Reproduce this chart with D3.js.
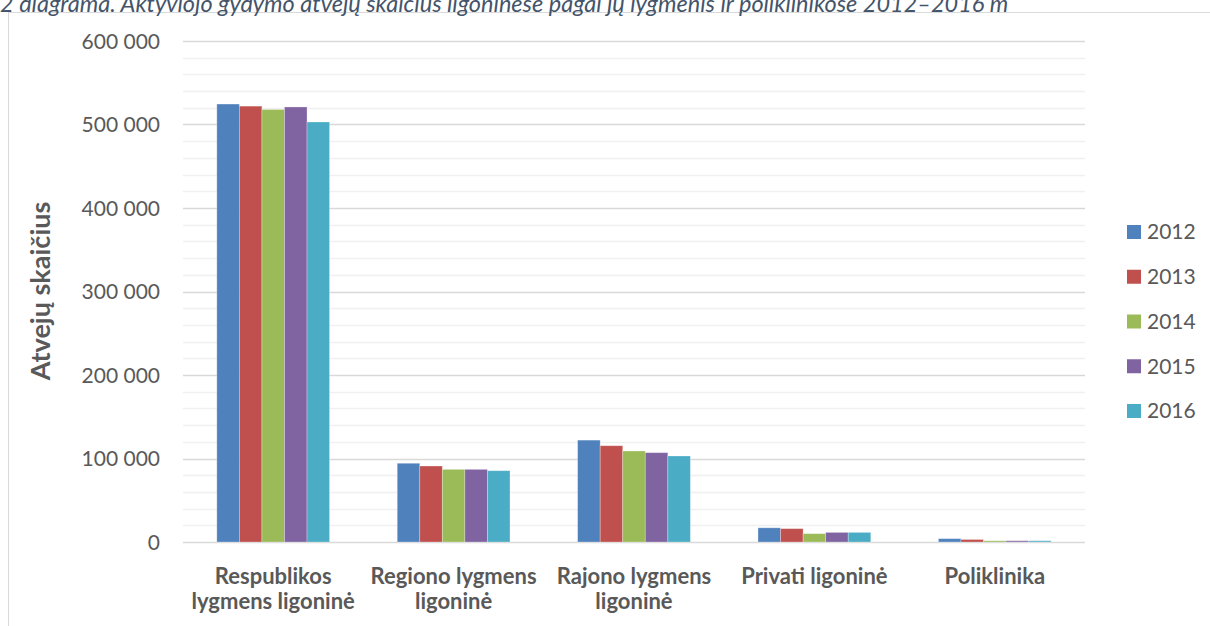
<!DOCTYPE html>
<html><head><meta charset="utf-8">
<script src="https://cdn.jsdelivr.net/npm/d3@7"></script>
<style>body{margin:0;background:#fff;}svg{display:block;}</style>
</head><body>
<script>
const categories = [["Respublikos","lygmens ligoninė"],["Regiono lygmens","ligoninė"],["Rajono lygmens","ligoninė"],["Privati ligoninė"],["Poliklinika"]];
const years = ["2012","2013","2014","2015","2016"];
const colors = ["#4F81BD","#C0504D","#9BBB59","#8064A2","#4BACC6"];
const v2012 = [524500, 94300, 122000, 17000, 4000];
const v2013 = [522000, 91000, 115300, 16000, 3000];
const v2014 = [518000, 87000, 109000, 10000, 1500];
const v2015 = [521000, 87000, 107000, 11500, 1500];
const v2016 = [503000, 85400, 103000, 11500, 1500];
const series = [v2012, v2013, v2014, v2015, v2016];
const majorTicks = [0,100000,200000,300000,400000,500000,600000];
const titleText = "2 diagrama. Aktyviojo gydymo atvejų skaičius ligoninėse pagal jų lygmenis ir poliklinikose 2012–2016 m";
const yTitle = "Atvejų skaičius";

const W=1210,H=626;
const svg=d3.select("body").append("svg").attr("width",W).attr("height",H);
const font="Lato, 'Open Sans', sans-serif";

// frame
svg.append("rect").attr("x",8.5).attr("y",12.5).attr("width",W+10).attr("height",H).attr("fill","none").attr("stroke","#d9d9d9").attr("stroke-width",1);

// title (cut at top)
svg.append("text").attr("x",0).attr("y",12).attr("font-family",font).attr("font-style","italic")
  .attr("font-size",23.5).attr("fill","#44546A").text(titleText);

const x0=183,x1=1085,yTop=41,yBot=542;
const y=d3.scaleLinear().domain([0,600000]).range([yBot,yTop]);
const xb=d3.scaleBand().domain(d3.range(categories.length)).range([x0,x1]).paddingInner(0.375).paddingOuter(0.1875);
const xi=d3.scaleBand().domain(d3.range(years.length)).range([0,xb.bandwidth()]);

// gridlines
const minor=d3.range(0,600001,20000).filter(d=>d%100000!==0);
svg.append("g").selectAll("line").data(minor).join("line")
  .attr("x1",x0).attr("x2",x1).attr("y1",d=>Math.round(y(d))+0.5).attr("y2",d=>Math.round(y(d))+0.5)
  .attr("stroke","#f0f0f0").attr("stroke-width",1.5);
svg.append("g").selectAll("line").data(majorTicks).join("line")
  .attr("x1",x0).attr("x2",x1).attr("y1",d=>Math.round(y(d))+0.5).attr("y2",d=>Math.round(y(d))+0.5)
  .attr("stroke","#d9d9d9").attr("stroke-width",1.5);

// y axis labels
const fmt=d=>d===0?"0":d3.format(",")(d).replace(/,/g," ");
const yAxis=d3.axisLeft(y).tickValues(majorTicks).tickFormat(fmt).tickSize(0).tickPadding(0);
const ga=svg.append("g").attr("transform",`translate(160,0)`).call(yAxis);
ga.select(".domain").remove();
ga.selectAll("text").attr("font-family",font).attr("font-size",21).attr("fill","#595959").attr("dy","0.35em");

// bars
const g=svg.append("g");
series.forEach((s,si)=>{
  g.append("g").selectAll("rect").data(s).join("rect")
   .attr("x",(d,i)=>xb(i)+xi(si)).attr("width",xi.bandwidth())
   .attr("y",d=>y(d)).attr("height",d=>yBot-y(d))
   .attr("fill",colors[si]).attr("stroke","rgba(255,255,255,0.35)").attr("stroke-width",0.8);
});

// x labels
const xg=svg.append("g");
categories.forEach((c,i)=>{
  const cx=xb(i)+xb.bandwidth()/2;
  const t=xg.append("text").attr("x",cx).attr("y",584).attr("text-anchor","middle")
    .attr("font-family",font).attr("font-weight","bold").attr("font-size",22).attr("fill","#595959");
  c.forEach((line,li)=>t.append("tspan").attr("x",cx).attr("dy",li===0?0:25).text(line));
});

// y title
svg.append("text").attr("transform","translate(50,291) rotate(-90)").attr("text-anchor","middle")
  .attr("font-family",font).attr("font-weight","bold").attr("font-size",27).attr("fill","#595959").text(yTitle);

// legend
const lg=svg.append("g");
years.forEach((yr,i)=>{
  const cy=232+i*44.75;
  lg.append("rect").attr("x",1127).attr("y",cy-7).attr("width",14).attr("height",14).attr("fill",colors[i]);
  lg.append("text").attr("x",1147).attr("y",cy).attr("dy","0.35em").attr("font-family",font)
    .attr("font-size",21).attr("fill","#595959").text(yr);
});
</script>
</body></html>
